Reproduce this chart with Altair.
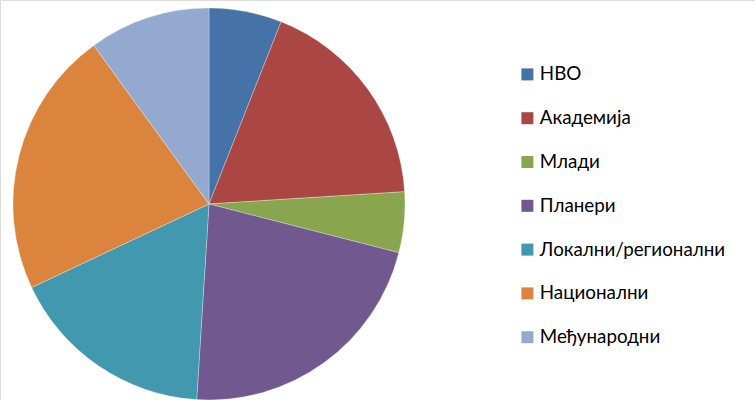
import altair as alt
import pandas as pd

categories = ["НВО", "Академија", "Млади", "Планери", "Локални/регионални", "Национални", "Међународни"]
values = [6, 18, 5, 22, 17, 22, 10]
colors = ["#4572A7", "#AA4643", "#89A54E", "#71588F", "#4198AF", "#DB843D", "#93A9CF"]

df = pd.DataFrame({"cat": categories, "val": values, "order": list(range(len(categories)))})

chart = alt.Chart(df).mark_arc(radius=196, stroke="white", strokeWidth=0.3).encode(
    theta=alt.Theta("val:Q", stack=True),
    order=alt.Order("order:Q"),
    x=alt.value(209),
    y=alt.value(204),
    color=alt.Color(
        "cat:N",
        sort=categories,
        scale=alt.Scale(domain=categories, range=colors),
        legend=alt.Legend(
            title=None,
            orient="none",
            legendX=518,
            legendY=65,
            symbolType="square",
            symbolSize=144,
            symbolStrokeWidth=0,
            labelFont="Lato",
            labelFontSize=18.8,
            labelColor="#000000",
            labelOffset=3,
            rowPadding=23.8,
            labelLimit=300,
        ),
    ),
).properties(
    width=755, height=400, padding=0
).configure_view(stroke=None).configure(autosize="none")

chart.save("out.html", embed_options={"renderer": "svg", "actions": False})
